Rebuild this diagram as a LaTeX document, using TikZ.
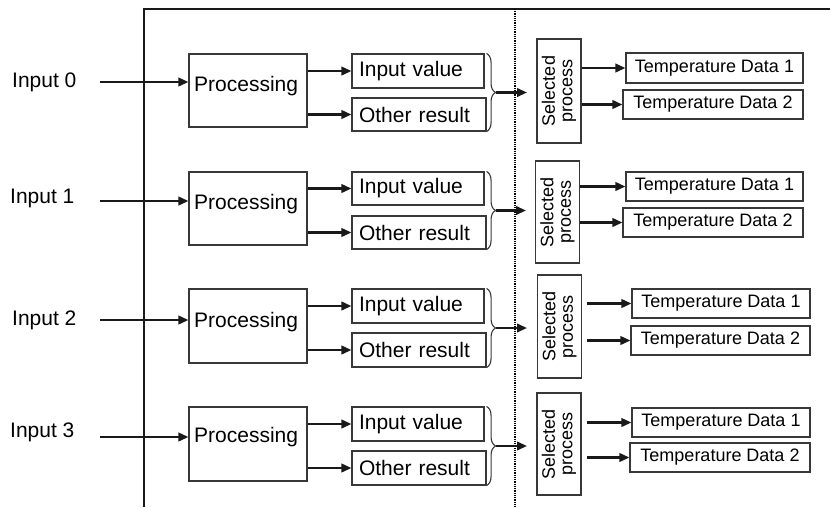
\documentclass[tikz,border=0pt]{standalone}
\usepackage{fontspec}
\setmainfont{Liberation Sans}
\usetikzlibrary{arrows.meta,decorations.pathreplacing,calc}
\definecolor{boxc}{gray}{0.22}
\definecolor{linec}{gray}{0.1}
\tikzset{
  box/.style={draw=boxc, line width=1.1pt, inner sep=0pt, rectangle},
  arr/.style={draw=linec, line width=2.2pt, -{Triangle[length=10pt,width=8.5pt]}},
  big/.style={font=\fontsize{21}{24}\selectfont},
  small/.style={font=\fontsize{18}{17.5}\selectfont},
  ibox/.style={box, big, align=left, inner xsep=7pt, text width=#1},
  tbox/.style={box, small, minimum width=#1},
  sbox/.style={box, minimum width=44pt},
  stext/.style={small, rotate=90, align=center, inner sep=0pt},
  bracest/.style={draw=boxc, line width=1.1pt, decorate, decoration={brace, amplitude=9pt}},
  frame/.style={draw=linec, line width=1.1pt},
  dotline/.style={draw=black, line width=2pt, dash pattern=on 1pt off 0.8pt},
  lab/.style={big, anchor=base west, inner sep=0pt},
}
\begin{document}
\begin{tikzpicture}[x=1pt,y=-1pt]
\useasboundingbox (0,0) rectangle (830,507);
% frame
\draw[frame] (144,507) -- (144,9) -- (830,9);
\draw[dotline] (515,9) -- (515,507);

% ---------------- block 0
\node[lab] (in0) at (12,87) {Input 0};
\coordinate (a0) at (100,82);
\node[box, minimum width=118pt, minimum height=73pt] (p0) at (248,90.5) {};
\node[lab] (p0t) at (194,91) {Processing};
\node[ibox=118pt, minimum height=34pt] (iv0) at (418,71) {Input value};
\node[ibox=120pt, minimum height=33pt] (or0) at (419,114.5) {Other result};
\node[sbox, minimum height=104pt] (s0) at (559,91) {};
\node[stext] (s0t) at (s0) {Selected\\process};
\node[tbox=177pt, minimum height=30pt] (t01) at (714.5,68) {Temperature Data 1};
\node[tbox=180pt, minimum height=29pt] (t02) at (713,104.5) {Temperature Data 2};
\draw[arr] (a0) -- (a0 -| p0.west);
\draw[arr] (iv0.west -| p0.east) -- (iv0.west);
\draw[arr] (or0.west -| p0.east) -- (or0.west);
\coordinate (bu0) at (or0.east |- iv0.north);
\coordinate (bd0) at (or0.south east);
\draw[bracest] (bu0) -- (bd0);
\coordinate (bt0) at ($(bu0)!0.5!(bd0)+(9,0)$);
\coordinate (e0) at (527,0);
\draw[arr] (bt0) -- (bt0 -| e0);
\draw[arr] (t01.west -| s0.east) -- (t01.west);
\draw[arr] (t02.west -| s0.east) -- (t02.west);

% ---------------- block 1
\node[lab] (in1) at (10,203) {Input 1};
\coordinate (a1) at (100,201);
\node[box, minimum width=118pt, minimum height=73pt] (p1) at (248,208.5) {};
\node[lab] (p1t) at (194,209) {Processing};
\node[ibox=118pt, minimum height=33pt] (iv1) at (418,188.5) {Input value};
\node[ibox=120pt, minimum height=33pt] (or1) at (419,232.5) {Other result};
\node[sbox, minimum height=102pt] (s1) at (557.5,212) {};
\node[stext] (s1t) at (s1) {Selected\\process};
\node[tbox=177pt, minimum height=29pt] (t11) at (714.5,186.5) {Temperature Data 1};
\node[tbox=180pt, minimum height=29pt] (t12) at (713,222.5) {Temperature Data 2};
\draw[arr] (a1) -- (a1 -| p1.west);
\draw[arr] (iv1.west -| p1.east) -- (iv1.west);
\draw[arr] (or1.west -| p1.east) -- (or1.west);
\coordinate (bu1) at (or1.east |- iv1.north);
\coordinate (bd1) at (or1.south east);
\draw[bracest] (bu1) -- (bd1);
\coordinate (bt1) at ($(bu1)!0.5!(bd1)+(9,0)$);
\coordinate (e1) at (526,0);
\draw[arr] (bt1) -- (bt1 -| e1);
\draw[arr] (t11.west -| s1.east) -- (t11.west);
\draw[arr] (t12.west -| s1.east) -- (t12.west);

% ---------------- block 2
\node[lab] (in2) at (12,325) {Input 2};
\coordinate (a2) at (100,320);
\node[box, minimum width=118pt, minimum height=74pt] (p2) at (248,326) {};
\node[lab] (p2t) at (194,327) {Processing};
\node[ibox=118pt, minimum height=34pt] (iv2) at (418,306) {Input value};
\node[ibox=120pt, minimum height=34pt] (or2) at (419,350) {Other result};
\node[sbox, minimum height=103pt] (s2) at (559.5,326.5) {};
\node[stext] (s2t) at (s2) {Selected\\process};
\node[tbox=178pt, minimum height=29pt] (t21) at (721,303.5) {Temperature Data 1};
\node[tbox=179pt, minimum height=29pt] (t22) at (720.5,340.5) {Temperature Data 2};
\draw[arr] (a2) -- (a2 -| p2.west);
\draw[arr] (iv2.west -| p2.east) -- (iv2.west);
\draw[arr] (or2.west -| p2.east) -- (or2.west);
\coordinate (bu2) at (or2.east |- iv2.north);
\coordinate (bd2) at (or2.south east);
\draw[bracest] (bu2) -- (bd2);
\coordinate (bt2) at ($(bu2)!0.5!(bd2)+(9,0)$);
\coordinate (e2) at (527,0);
\draw[arr] (bt2) -- (bt2 -| e2);
\coordinate (c21) at (587,0);
\draw[arr] (t21.west -| c21) -- (t21.west);
\draw[arr] (t22.west -| c21) -- (t22.west);

% ---------------- block 3
\node[lab] (in3) at (10,437) {Input 3};
\coordinate (a3) at (100,437);
\node[box, minimum width=118pt, minimum height=74pt] (p3) at (248,444) {};
\node[lab] (p3t) at (194,442) {Processing};
\node[ibox=118pt, minimum height=34pt] (iv3) at (418,424) {Input value};
\node[ibox=120pt, minimum height=34pt] (or3) at (419,468) {Other result};
\node[sbox, minimum height=102pt] (s3) at (559,444) {};
\node[stext] (s3t) at (s3) {Selected\\process};
\node[tbox=178pt, minimum height=29pt] (t31) at (721,422.5) {Temperature Data 1};
\node[tbox=180pt, minimum height=29pt] (t32) at (720,457.5) {Temperature Data 2};
\draw[arr] (a3) -- (a3 -| p3.west);
\draw[arr] (iv3.west -| p3.east) -- (iv3.west);
\draw[arr] (or3.west -| p3.east) -- (or3.west);
\coordinate (bu3) at (or3.east |- iv3.north);
\coordinate (bd3) at (or3.south east);
\draw[bracest] (bu3) -- (bd3);
\coordinate (bt3) at ($(bu3)!0.5!(bd3)+(9,0)$);
\coordinate (e3) at (527,0);
\draw[arr] (bt3) -- (bt3 -| e3);
\coordinate (c31) at (587,0);
\draw[arr] (t31.west -| c31) -- (t31.west);
\draw[arr] (t32.west -| c31) -- (t32.west);
\end{tikzpicture}
\end{document}
